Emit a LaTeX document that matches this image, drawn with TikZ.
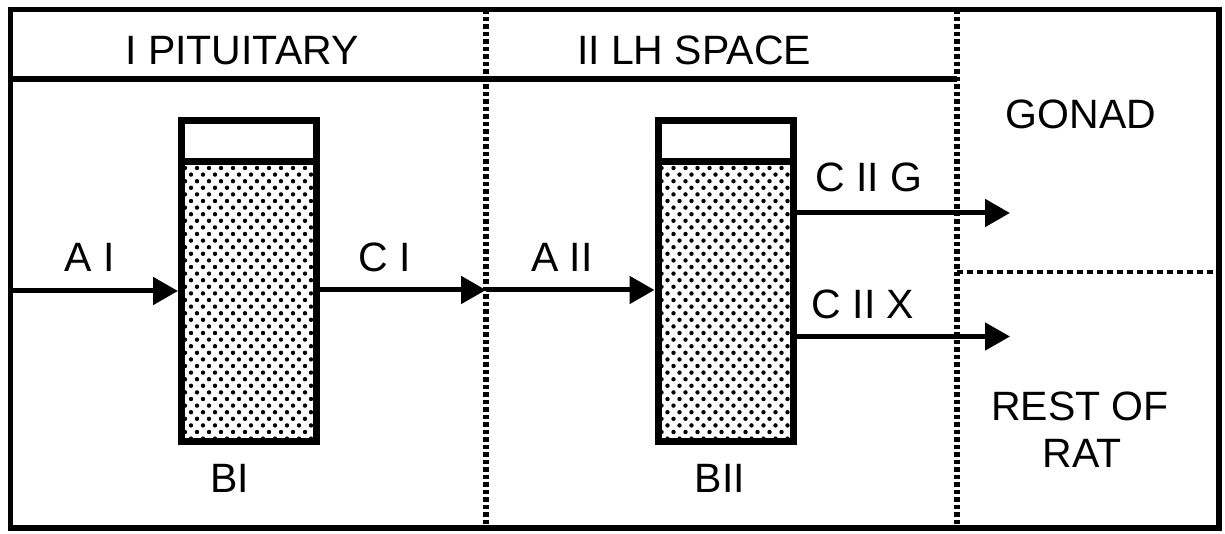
\documentclass[tikz,border=0pt]{standalone}
\usepackage{fontspec}
\setmainfont{Liberation Sans}
\usetikzlibrary{arrows.meta}
\begin{document}
\begin{tikzpicture}[x=1pt,y=-1pt,
  frameline/.style={line width=5.5pt},
  sepV/.style={line width=5.5pt, dash pattern=on 4.5pt off 3pt},
  sepH/.style={line width=4pt, dash pattern=on 5.5pt off 4.5pt},
  flow/.style={line width=5pt, -{Triangle[length=25pt,width=27pt]}},
  compartment/.style={draw, line width=7pt, minimum width=135pt, minimum height=320pt, inner sep=0pt},
  lbl/.style={font=\fontsize{41}{48}\selectfont, inner sep=0pt},
]
\useasboundingbox (0,0) rectangle (1225,534);

% outer frame, header rule, separators
\draw[frameline] (10.5,9.5) rectangle (1219,528);
\draw[frameline] (10.5,79) -- (957,79);
\draw[sepV] (486,9.5) -- (486,528);
\draw[sepV] (957,9.5) -- (957,528);
\draw[sepH] (957,272) -- (1219,272);

% compartments
\node[compartment] (B1) at (249,281) {};
\node[compartment] (B2) at (725.5,281) {};

\foreach \b in {B1,B2}{
  \begin{scope}
    \clip ([yshift=-44.5pt]\b.north west) rectangle (\b.south east);
    \path ([yshift=-44.5pt]\b.north west) coordinate (o);
    \foreach \i in {0,...,42}{
      \foreach \j in {0,...,12}{
        \fill ([xshift={7+\j*12+mod(\i,2)*6}, yshift={-(6+\i*6.6)}]o) circle[radius=2.2pt];
      }
    }
  \end{scope}
  \node[compartment] at (\b) {};
  \draw[line width=7pt] ([yshift=-44.5pt]\b.north west) -- ([yshift=-44.5pt]\b.north east);
}

% connector end points
\coordinate (src) at (10.5,291);
\coordinate (gate) at (486,290);
\coordinate (toG) at (1010,213);
\coordinate (toX) at (1010,336.5);

\draw[flow] (src) -- (src -| B1.west);
\draw[flow] (B1.east |- gate) -- (gate);
\draw[flow] (gate) -- (gate -| B2.west);
\draw[flow] (B2.east |- toG) -- (toG);
\draw[flow] (B2.east |- toX) -- (toX);

% labels
\node[lbl] (tI) at (242,50.5) {I PITUITARY};
\node[lbl] (tII) at (694,50.5) {II LH SPACE};
\node[lbl] (gonad) at (1081,114.5) {GONAD};
\node[lbl] (rest) at (1080,406) {REST OF};
\node[lbl] (rat) at (1082,453) {RAT};
\node[lbl] (lAI) at (90,257) {A I};
\node[lbl] (lCI) at (385,257) {C I};
\node[lbl] (lAII) at (562,257) {A II};
\node[lbl] (lCIIG) at (869,177) {C II G};
\node[lbl] (lCIIX) at (863,304.5) {C II X};
\node[lbl] (lBI) at (230,478) {BI};
\node[lbl] (lBII) at (720,478) {BII};
\end{tikzpicture}
\end{document}
